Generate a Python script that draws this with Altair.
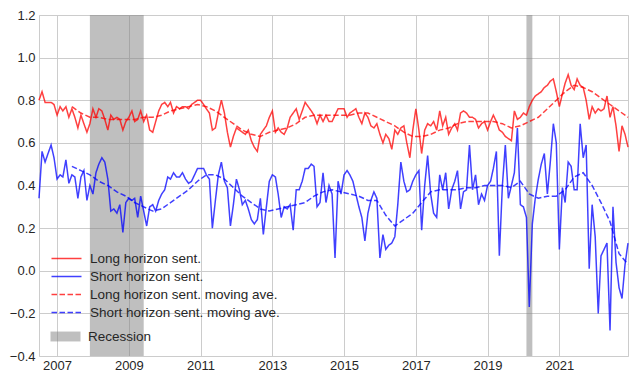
import altair as alt
import pandas as pd

# ---- data ----
series_names = ["Long horizon sent.", "Short horizon sent.",
                "Long horizon sent. moving ave.", "Short horizon sent. moving ave."]

# monthly values, Jul 2006 .. Dec 2022
long_h = (
    [0.80, 0.84, 0.79, 0.79, 0.79, 0.78] +                                   # 2006 H2
    [0.73, 0.77, 0.75, 0.77, 0.72, 0.76, 0.72, 0.67, 0.73, 0.69, 0.65, 0.69] +  # 2007
    [0.76, 0.72, 0.76, 0.75, 0.71, 0.66, 0.73, 0.71, 0.72, 0.71, 0.66, 0.70] +  # 2008
    [0.72, 0.75, 0.70, 0.71, 0.75, 0.70, 0.73, 0.66, 0.65, 0.70, 0.75, 0.78] +  # 2009
    [0.79, 0.77, 0.79, 0.74, 0.77, 0.76, 0.77, 0.77, 0.76, 0.78, 0.79, 0.80] +  # 2010
    [0.80, 0.78, 0.76, 0.74, 0.66, 0.67, 0.74, 0.80, 0.74, 0.65, 0.58, 0.63] +  # 2011
    [0.67, 0.66, 0.65, 0.64, 0.66, 0.61, 0.58, 0.56, 0.64, 0.66, 0.68, 0.72] +  # 2012
    [0.75, 0.65, 0.67, 0.65, 0.64, 0.67, 0.72, 0.74, 0.76, 0.71, 0.75, 0.79] +  # 2013
    [0.77, 0.75, 0.73, 0.69, 0.73, 0.70, 0.73, 0.70, 0.70, 0.73, 0.76, 0.76] +  # 2014
    [0.76, 0.72, 0.74, 0.75, 0.76, 0.72, 0.69, 0.74, 0.72, 0.68, 0.67, 0.69] +  # 2015
    [0.64, 0.60, 0.64, 0.62, 0.57, 0.66, 0.64, 0.67, 0.68, 0.60, 0.53, 0.66] +  # 2016
    [0.76, 0.66, 0.55, 0.66, 0.69, 0.68, 0.70, 0.66, 0.75, 0.68, 0.72, 0.64] +  # 2017
    [0.67, 0.69, 0.66, 0.74, 0.75, 0.74, 0.72, 0.72, 0.71, 0.67, 0.69, 0.70] +  # 2018
    [0.66, 0.70, 0.73, 0.70, 0.66, 0.65, 0.63, 0.62, 0.61, 0.75, 0.71, 0.72] +  # 2019
    [0.74, 0.73, 0.77, 0.80, 0.82, 0.83, 0.84, 0.86, 0.87, 0.89, 0.90, 0.84] +  # 2020
    [0.77, 0.83, 0.88, 0.92, 0.87, 0.85, 0.90, 0.87, 0.86, 0.80, 0.71, 0.77] +  # 2021
    [0.74, 0.76, 0.75, 0.76, 0.82, 0.72, 0.77, 0.68, 0.56, 0.68, 0.64, 0.58]    # 2022
)

short_h = (
    [0.34, 0.56, 0.51, 0.55, 0.59, 0.53] +
    [0.43, 0.45, 0.44, 0.52, 0.41, 0.45, 0.44, 0.34, 0.44, 0.47, 0.33, 0.40] +
    [0.36, 0.46, 0.50, 0.53, 0.51, 0.43, 0.28, 0.29, 0.27, 0.31, 0.18, 0.32] +
    [0.34, 0.33, 0.34, 0.25, 0.35, 0.28, 0.21, 0.30, 0.31, 0.28, 0.33, 0.36] +
    [0.38, 0.44, 0.43, 0.46, 0.44, 0.44, 0.46, 0.43, 0.41, 0.42, 0.45, 0.48] +
    [0.48, 0.48, 0.45, 0.43, 0.20, 0.33, 0.45, 0.51, 0.42, 0.39, 0.21, 0.31] +
    [0.43, 0.38, 0.31, 0.33, 0.29, 0.24, 0.22, 0.24, 0.34, 0.17, 0.30, 0.42] +
    [0.45, 0.44, 0.36, 0.25, 0.30, 0.29, 0.31, 0.19, 0.38, 0.38, 0.42, 0.48] +
    [0.48, 0.50, 0.49, 0.30, 0.32, 0.46, 0.32, 0.40, 0.36, 0.06, 0.42, 0.36] +
    [0.45, 0.47, 0.45, 0.42, 0.36, 0.30, 0.25, 0.14, 0.27, 0.33, 0.37, 0.34] +
    [0.06, 0.17, 0.10, 0.12, 0.13, 0.16, 0.31, 0.51, 0.42, 0.37, 0.38, 0.42] +
    [0.45, 0.47, 0.19, 0.40, 0.54, 0.36, 0.27, 0.25, 0.45, 0.38, 0.46, 0.29] +
    [0.38, 0.42, 0.47, 0.29, 0.37, 0.38, 0.59, 0.38, 0.45, 0.31, 0.36, 0.33] +
    [0.40, 0.42, 0.48, 0.56, 0.07, 0.40, 0.59, 0.34, 0.40, 0.46, 0.67, 0.31] +
    [0.30, 0.25, -0.17, 0.22, 0.34, 0.43, 0.50, 0.55, 0.36, 0.51, 0.69, 0.60] +
    [0.10, 0.39, 0.32, 0.51, 0.49, 0.38, 0.38, 0.69, 0.53, 0.59, 0.01, 0.31] +
    [0.16, -0.20, 0.07, 0.10, 0.13, -0.28, 0.30, 0.04, -0.08, -0.13, 0.03, 0.13]
)

# moving averages, read every 3 months from Jun 2007 to Dec 2022
long_ma = [0.77, 0.74, 0.72, 0.72, 0.71, 0.71, 0.71, 0.71, 0.72, 0.72, 0.73, 0.75,
           0.76, 0.77, 0.78, 0.77, 0.75, 0.72, 0.69, 0.66, 0.64, 0.63, 0.65, 0.66,
           0.67, 0.69, 0.72, 0.73, 0.73, 0.73, 0.73, 0.73, 0.74, 0.74, 0.72, 0.70,
           0.68, 0.65, 0.63, 0.63, 0.64, 0.66, 0.67, 0.69, 0.70, 0.70, 0.70, 0.70,
           0.69, 0.67, 0.68, 0.70, 0.72, 0.76, 0.80, 0.84, 0.87, 0.86, 0.84, 0.81,
           0.78, 0.75, 0.72]
short_ma = [0.49, 0.47, 0.45, 0.42, 0.40, 0.37, 0.35, 0.32, 0.30, 0.28, 0.29, 0.32,
            0.35, 0.38, 0.42, 0.45, 0.45, 0.43, 0.39, 0.35, 0.32, 0.29, 0.28, 0.29,
            0.30, 0.31, 0.32, 0.35, 0.37, 0.38, 0.37, 0.36, 0.35, 0.33, 0.33, 0.26,
            0.21, 0.24, 0.27, 0.32, 0.37, 0.38, 0.38, 0.38, 0.39, 0.39, 0.40, 0.40,
            0.40, 0.39, 0.42, 0.36, 0.34, 0.35, 0.35, 0.38, 0.44, 0.46, 0.40, 0.32,
            0.23, 0.08, 0.03]

rec_start = ["2007-12-01", "2020-02-01"]
rec_end = ["2009-06-01", "2020-04-01"]
rec_label = ["Recession", "Recession"]

tick_years = [2007, 2009, 2011, 2013, 2015, 2017, 2019, 2021]
y_ticks = [-0.4, -0.2, 0.0, 0.2, 0.4, 0.6, 0.8, 1.0, 1.2]

# ---- tables ----
dates = pd.date_range("2006-07-01", periods=len(long_h), freq="MS")
ma_dates = pd.date_range("2007-06-01", periods=len(long_ma), freq="3MS")

df = pd.concat([
    pd.DataFrame({"date": dates, "value": long_h, "series": series_names[0]}),
    pd.DataFrame({"date": dates, "value": short_h, "series": series_names[1]}),
    pd.DataFrame({"date": ma_dates, "value": long_ma, "series": series_names[2]}),
    pd.DataFrame({"date": ma_dates, "value": short_ma, "series": series_names[3]}),
], ignore_index=True)
df["date"] = df["date"].dt.strftime("%Y-%m-%dT00:00:00")

rec_df = pd.DataFrame({"start": [s + "T00:00:00" for s in rec_start],
                       "end": [e + "T00:00:00" for e in rec_end],
                       "label": rec_label})

FONT = "Liberation Sans"
TXT = "#262626"

x_scale = alt.Scale(domain=[alt.DateTime(year=2006, month=7, date=1),
                            alt.DateTime(year=2022, month=12, date=1)])
x_axis = alt.Axis(values=[alt.DateTime(year=y, month=1, date=1) for y in tick_years],
                  format="%Y", labelPadding=3, title=None)

line_legend = alt.Legend(title=None, orient="none", legendX=19, legendY=235,
                         symbolType="M-2,0H2", symbolSize=225, symbolStrokeWidth=1.5,
                         labelFontSize=13.5, labelFont=FONT, labelColor=TXT, labelLimit=400,
                         labelOffset=15, rowPadding=3, padding=0)

rec_layer = alt.Chart(rec_df).mark_rect(opacity=0.5).encode(
    x=alt.X("start:T", scale=x_scale, axis=x_axis),
    x2="end:T",
    fill=alt.Fill("label:N", scale=alt.Scale(domain=["Recession"], range=["#808080"]),
                  legend=alt.Legend(title=None, orient="none", legendX=19, legendY=314,
                                    symbolType="M-2,-0.66H2V0.66H-2Z", symbolSize=225,
                                    symbolStrokeWidth=0, symbolOpacity=0.5,
                                    labelFontSize=13.5, labelFont=FONT, labelColor=TXT,
                                    labelLimit=400, labelOffset=15, padding=0)),
)

lines = alt.Chart(df).mark_line(strokeWidth=1.5, opacity=0.75).encode(
    x=alt.X("date:T", scale=x_scale, axis=x_axis),
    y=alt.Y("value:Q", scale=alt.Scale(domain=[-0.4, 1.2], nice=False, zero=False),
            axis=alt.Axis(values=y_ticks, format=".1f", labelPadding=4, title=None)),
    color=alt.Color("series:N", sort=series_names,
                    scale=alt.Scale(domain=series_names,
                                    range=["#ff0000", "#0000ff", "#ff0000", "#0000ff"]),
                    legend=line_legend),
    strokeDash=alt.StrokeDash("series:N", sort=series_names,
                              scale=alt.Scale(domain=series_names,
                                              range=[[1, 0], [1, 0], [5.5, 2.5], [5.5, 2.5]]),
                              legend=line_legend),
)

chart = alt.layer(rec_layer, lines).properties(
    width=589, height=341,
    autosize=alt.AutoSizeParams(type="none"),
    padding={"left": 31, "top": 7, "right": 5, "bottom": 16},
).configure_view(
    stroke="#cccccc", strokeWidth=1
).configure_axis(
    grid=True, gridColor="#cccccc", gridWidth=1, ticks=False, domain=False,
    labelFont=FONT, labelFontSize=13, labelColor=TXT
)

chart.save("out.html", embed_options={"renderer": "svg", "actions": False})
